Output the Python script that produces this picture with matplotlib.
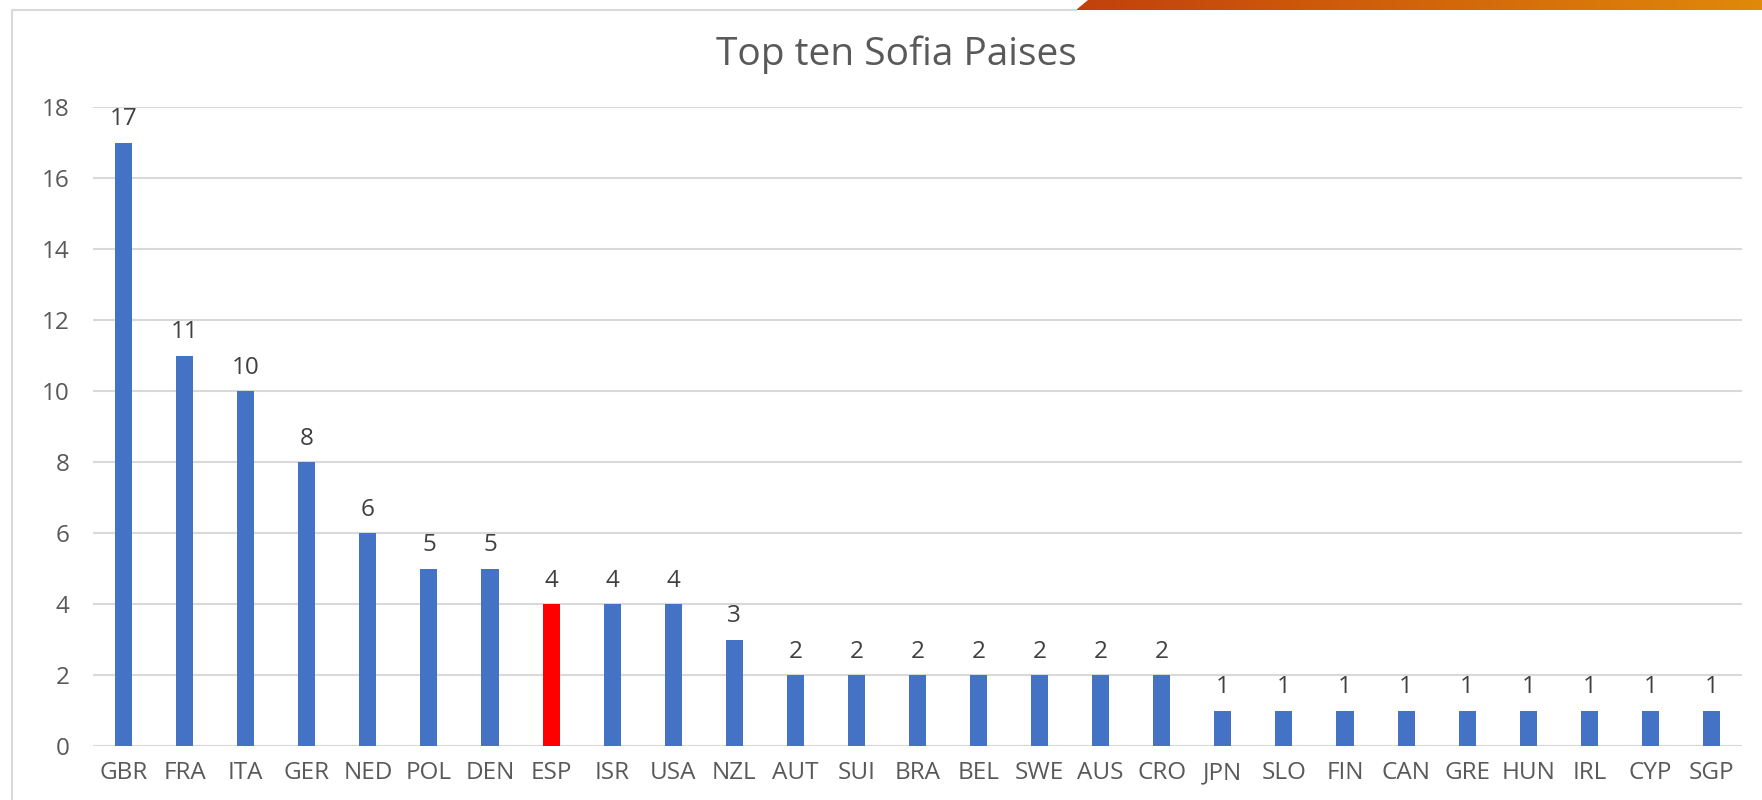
import matplotlib
matplotlib.use("Agg")
import matplotlib.pyplot as plt
import numpy as np
from matplotlib.patches import Polygon
from matplotlib.lines import Line2D
from matplotlib.colors import LinearSegmentedColormap

countries = ["GBR", "FRA", "ITA", "GER", "NED", "POL", "DEN", "ESP", "ISR", "USA",
             "NZL", "AUT", "SUI", "BRA", "BEL", "SWE", "AUS", "CRO", "JPN", "SLO",
             "FIN", "CAN", "GRE", "HUN", "IRL", "CYP", "SGP"]
values = [17, 11, 10, 8, 6, 5, 5, 4, 4, 4,
          3, 2, 2, 2, 2, 2, 2, 2, 1, 1,
          1, 1, 1, 1, 1, 1, 1]
highlight = "ESP"
title = "Top ten Sofia Paises"
yticks = [0, 2, 4, 6, 8, 10, 12, 14, 16, 18]

W, H = 1762, 800
fig = plt.figure(figsize=(W / 100, H / 100), dpi=100)
font = ["Open Sans", "DejaVu Sans"]
plt.rcParams["font.family"] = font

left, right, top, bottom = 93, 1742, 107, 746
ax = fig.add_axes([left / W, 1 - bottom / H, (right - left) / W, (bottom - top) / H])

colors = ["#FF0000" if c == highlight else "#4472C4" for c in countries]
x = np.arange(len(countries))
ax.bar(x, values, width=0.28, color=colors, zorder=3)
ax.set_xlim(-0.5, len(countries) - 0.5)
ax.set_ylim(0, 18)
ax.set_yticks(yticks)
ax.set_xticks(x)
ax.set_xticklabels(countries)
ax.tick_params(axis="both", length=0, labelsize=17.5, colors="#595959")
ax.tick_params(axis="y", pad=17)
ax.tick_params(axis="x", pad=11)
ax.grid(axis="y", color="#D9D9D9", linewidth=1.5, zorder=0)
for s in ax.spines.values():
    s.set_visible(False)

for xi, v in zip(x, values):
    ax.annotate(str(v), (xi, v), xytext=(0, 8), textcoords="offset points",
                ha="center", va="bottom", fontsize=17.5, color="#404040")

fig.text(896 / W, 1 - 55 / H, title, ha="center", va="center", fontsize=28, color="#595959")

# chart border (top and left)
fig.add_artist(Line2D([12 / W, 12 / W, 1076 / W], [0, 1 - 10 / H, 1 - 10 / H],
                      color="#D9D9D9", linewidth=1.5, transform=fig.transFigure))

# orange decorative band at top right
bax = fig.add_axes([0, 0, 1, 1], zorder=-1)
bax.set_xlim(0, W)
bax.set_ylim(H, 0)
bax.axis("off")
grad = np.linspace(0, 1, 256).reshape(1, -1)
cmap = LinearSegmentedColormap.from_list("o", ["#C2410C", "#D2640A", "#E0890A"])
im = bax.imshow(grad, extent=[1076, W, 10, 0], aspect="auto", cmap=cmap)
poly = Polygon([[1076, 10], [1088, 0], [W, 0], [W, 10]], closed=True, transform=bax.transData,
               facecolor="none", edgecolor="none")
bax.add_patch(poly)
im.set_clip_path(poly)

fig.savefig("out.png", dpi=100)
